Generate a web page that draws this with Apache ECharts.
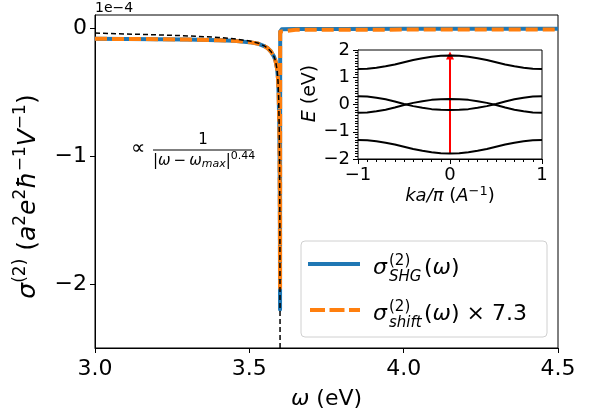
<!DOCTYPE html>
<html>
<head>
<meta charset="utf-8">
<script src="https://cdn.jsdelivr.net/npm/echarts@6/dist/echarts.min.js"></script>
<style>html,body{margin:0;padding:0;background:#fff;}#c{width:604px;height:416px;}</style>
</head>
<body>
<div id="c"></div>
<script>
// ---- main panel data (units of 1e-4) ----
const omega = [3.00,3.10,3.20,3.30,3.40,3.45,3.50,3.53,3.55,3.56,3.57,3.58,3.585,3.59,3.593,3.595,3.597,3.598,3.599,3.5995,3.6,3.605,3.65,3.80,4.00,4.25,4.50];
const sigmaSHG = [-0.086,-0.087,-0.089,-0.092,-0.097,-0.102,-0.112,-0.125,-0.145,-0.16,-0.185,-0.225,-0.26,-0.32,-0.40,-0.52,-0.75,-1.0,-1.5,-2.2,-0.03,-0.012,-0.010,-0.009,-0.008,-0.008,-0.008];
const sigmaShift = [-0.086,-0.087,-0.089,-0.092,-0.097,-0.102,-0.112,-0.125,-0.145,-0.16,-0.185,-0.225,-0.26,-0.32,-0.40,-0.52,-0.75,-1.0,-1.5,-2.03,-0.03,-0.018,-0.016,-0.015,-0.014,-0.014,-0.014];
const omegaFit = [3.00,3.10,3.20,3.30,3.40,3.45,3.50,3.53,3.55,3.56,3.57,3.58,3.585,3.59,3.593,3.595,3.597,3.598,3.599,3.5995,3.5999];
const fitCurve = [-0.041,-0.048,-0.055,-0.063,-0.075,-0.085,-0.103,-0.12,-0.143,-0.16,-0.185,-0.225,-0.26,-0.33,-0.42,-0.55,-0.8,-1.05,-1.6,-2.3,-3.5];
const mainXTicks = [3.0,3.5,4.0,4.5];
const mainYTicks = [0,-1,-2];

// ---- inset data ----
const kPts = [-1,-0.9,-0.8,-0.7,-0.6,-0.5,-0.4,-0.3,-0.2,-0.1,0,0.1,0.2,0.3,0.4,0.5,0.6,0.7,0.8,0.9,1];
const bandTop = [1.30,1.31,1.35,1.40,1.47,1.55,1.63,1.70,1.75,1.79,1.80,1.79,1.75,1.70,1.63,1.55,1.47,1.40,1.35,1.31,1.30];
const bandMidA = [0.30,0.29,0.25,0.19,0.11,0.02,-0.06,-0.12,-0.17,-0.19,-0.20,-0.19,-0.17,-0.12,-0.06,0.02,0.11,0.19,0.25,0.29,0.30];
const bandMidB = [-0.30,-0.29,-0.25,-0.19,-0.11,-0.02,0.06,0.12,0.17,0.19,0.20,0.19,0.17,0.12,0.06,-0.02,-0.11,-0.19,-0.25,-0.29,-0.30];
const bandBot = [-1.30,-1.31,-1.35,-1.40,-1.47,-1.55,-1.63,-1.70,-1.75,-1.79,-1.80,-1.79,-1.75,-1.70,-1.63,-1.55,-1.47,-1.40,-1.35,-1.31,-1.30];
const arrowK = 0, arrowFrom = -1.8, arrowTo = 1.8;
const insetXTicks = [-1,0,1];
const insetYTicks = [-2,-1,0,1,2];

const FF = 'DejaVu Sans';
const pair = (xs, ys) => xs.map((x, i) => [x, ys[i]]);
const fmt = v => String(v).replace('-', '\u2212');

const chart = echarts.init(document.getElementById('c'), null, {renderer: 'canvas'});
const bandSeries = (d) => ({
  type: 'line', xAxisIndex: 1, yAxisIndex: 1, data: pair(kPts, d), symbol: 'none',
  smooth: false, lineStyle: {color: '#000', width: 2}, silent: true, z: 10
});
const supStyle = {fontFamily: FF, fontSize: 17, padding: [0, 0, 16, 0], color: '#000'};

chart.setOption({
  animation: false,
  textStyle: {fontFamily: FF},
  grid: [
    {left: 95, top: 15, width: 463, height: 333, show: true, borderColor: '#000', borderWidth: 1, backgroundColor: 'transparent'},
    {left: 358, top: 50, width: 184, height: 109, show: true, borderColor: '#000', borderWidth: 1, backgroundColor: '#fff', z: 5}
  ],
  xAxis: [
    {type: 'value', gridIndex: 0, min: 3.0, max: 4.5, interval: 0.5,
     axisLine: {onZero: false, lineStyle: {color: '#000', width: 1}},
     axisTick: {show: true, length: 5, lineStyle: {color: '#000'}},
     axisLabel: {color: '#000', fontSize: 22, fontFamily: FF, margin: 10, customValues: mainXTicks, formatter: v => v.toFixed(1)},
     splitLine: {show: false},
     name: '{i|ω} (eV)', nameLocation: 'middle', nameGap: 40,
     nameTextStyle: {color: '#000', fontSize: 22, fontFamily: FF, rich: {i: {fontStyle: 'italic', fontSize: 22, fontFamily: FF}}}
    },
    {type: 'value', gridIndex: 1, min: -1, max: 1, interval: 1,
     axisLine: {onZero: false, lineStyle: {color: '#000', width: 1}},
     axisTick: {show: true, length: 5, lineStyle: {color: '#000'}},
     minorTick: {show: true, splitNumber: 10, length: 3, lineStyle: {color: '#000'}},
     axisLabel: {color: '#000', fontSize: 18, fontFamily: FF, margin: 7, customValues: insetXTicks, formatter: v => fmt(v)},
     splitLine: {show: false},
     name: '{i|ka/π} ({i|A}{s|−1})', nameLocation: 'middle', nameGap: 22,
     nameTextStyle: {color: '#000', fontSize: 18, fontFamily: FF, rich: {i: {fontStyle: 'italic', fontSize: 18, fontFamily: FF}, s: {fontSize: 13, fontFamily: FF, padding: [0,0,10,0]}}}
    }
  ],
  yAxis: [
    {type: 'value', gridIndex: 0, min: -2.5, max: 0.1,
     axisLine: {show: true, onZero: false, lineStyle: {color: '#000', width: 1}},
     axisTick: {show: true, length: 5, customValues: mainYTicks, lineStyle: {color: '#000'}},
     axisLabel: {color: '#000', fontSize: 22, fontFamily: FF, margin: 8, customValues: mainYTicks, formatter: v => fmt(v)},
     splitLine: {show: false},
     name: '{i|σ}{s|(2)} ({i|a}{s|2}{i|e}{s|2}{i|ħ}{s|−1}{i|V}{s|−1})',
     nameLocation: 'middle', nameRotate: 90, nameGap: 50,
     nameTextStyle: {color: '#000', fontSize: 25, fontFamily: FF, padding: [0, 30, 0, 0], rich: {i: {fontStyle: 'italic', fontSize: 25, fontFamily: FF}, s: supStyle}}
    },
    {type: 'value', gridIndex: 1, min: -2, max: 2, interval: 1,
     axisLine: {show: true, onZero: false, lineStyle: {color: '#000', width: 1}},
     axisTick: {show: true, length: 5, lineStyle: {color: '#000'}},
     minorTick: {show: true, splitNumber: 10, length: 3, lineStyle: {color: '#000'}},
     axisLabel: {color: '#000', fontSize: 18, fontFamily: FF, margin: 8, customValues: insetYTicks, formatter: v => fmt(v)},
     splitLine: {show: false},
     name: '{i|E} (eV)', nameLocation: 'middle', nameRotate: 90, nameGap: 23,
     nameTextStyle: {color: '#000', fontSize: 19, fontFamily: FF, padding: [0, 0, 0, 22], rich: {i: {fontStyle: 'italic', fontSize: 19, fontFamily: FF}}}
    }
  ],
  series: [
    {type: 'line', name: 'SHG', xAxisIndex: 0, yAxisIndex: 0, data: pair(omega, sigmaSHG), symbol: 'none',
     lineStyle: {color: '#1f77b4', width: 4, join: 'round'}, silent: true, z: 2},
    {type: 'line', name: 'shift', xAxisIndex: 0, yAxisIndex: 0, data: pair(omega, sigmaShift), symbol: 'none',
     lineStyle: {color: '#ff7f0e', width: 4, type: [12, 5], join: 'round'}, silent: true, z: 3},
    {type: 'line', name: 'fit', xAxisIndex: 0, yAxisIndex: 0, data: pair(omegaFit, fitCurve), symbol: 'none',
     lineStyle: {color: '#000', width: 1.5, type: [5, 3]}, silent: true, z: 4},
    Object.assign(bandSeries(bandTop), {
      markLine: {silent: true, symbol: ['none', 'triangle'], symbolSize: 8, symbolOffset: [0, 0], label: {show: false},
        lineStyle: {color: '#ff0000', width: 2, type: 'solid'}, itemStyle: {color: '#ff0000'},
        emphasis: {disabled: true},
        data: [[{coord: [arrowK, arrowFrom]}, {coord: [arrowK, arrowTo]}]]}
    }),
    bandSeries(bandMidA),
    bandSeries(bandMidB),
    bandSeries(bandBot)
  ],
  graphic: [
    {type: 'text', left: 95, top: 1, style: {text: '1e\u22124', fontSize: 14, fontFamily: FF, fill: '#000'}},
    // annotation
    {type: 'text', x: 131, y: 149, style: {text: '\u221d', fontSize: 20, fontFamily: FF, fill: '#000', verticalAlign: 'middle'}},
    {type: 'text', x: 203, y: 140, style: {text: '1', fontSize: 15, fontFamily: FF, fill: '#000', align: 'center', verticalAlign: 'middle'}},
    {type: 'line', shape: {x1: 153, y1: 150, x2: 252, y2: 150}, style: {stroke: '#000', lineWidth: 1.2}},
    {type: 'text', x: 153, y: 161, style: {
      text: '|{i|ω}\u2009−\u2009{i|ω}{b|max}|{p|0.44}', fontSize: 15, fontFamily: FF, fill: '#000', verticalAlign: 'middle',
      rich: {i: {fontStyle: 'italic', fontSize: 15, fontFamily: FF}, b: {fontStyle: 'italic', fontSize: 11, fontFamily: FF, padding: [7,0,0,0]}, p: {fontSize: 11, fontFamily: FF, padding: [0,0,10,0]}}}},
    // legend
    {type: 'rect', shape: {x: 301, y: 241, width: 246, height: 96, r: 4}, style: {fill: 'rgba(255,255,255,0.8)', stroke: '#d0d0d0', lineWidth: 1}, z: 20},
    {type: 'line', shape: {x1: 308, y1: 264, x2: 360, y2: 264}, style: {stroke: '#1f77b4', lineWidth: 4}, z: 21},
    {type: 'line', shape: {x1: 310, y1: 310, x2: 360, y2: 310}, style: {stroke: '#ff7f0e', lineWidth: 4, lineDash: [15, 4.5]}, z: 21},
    {type: 'text', x: 373, y: 268, z: 21, style: {text: 'σ', fontSize: 22, fontStyle: 'italic', fontFamily: FF, fill: '#000', verticalAlign: 'middle'}},
    {type: 'text', x: 389, y: 261, z: 21, style: {text: '(2)', fontSize: 15, fontFamily: FF, fill: '#000', verticalAlign: 'middle'}},
    {type: 'text', x: 389, y: 277, z: 21, style: {text: 'SHG', fontSize: 15, fontStyle: 'italic', fontFamily: FF, fill: '#000', verticalAlign: 'middle'}},
    {type: 'text', x: 424, y: 268, z: 21, style: {text: '({i|ω})', fontSize: 22, fontFamily: FF, fill: '#000', verticalAlign: 'middle', rich: {i: {fontStyle: 'italic', fontSize: 22, fontFamily: FF}}}},
    {type: 'text', x: 373, y: 314, z: 21, style: {text: 'σ', fontSize: 22, fontStyle: 'italic', fontFamily: FF, fill: '#000', verticalAlign: 'middle'}},
    {type: 'text', x: 389, y: 307, z: 21, style: {text: '(2)', fontSize: 15, fontFamily: FF, fill: '#000', verticalAlign: 'middle'}},
    {type: 'text', x: 389, y: 323, z: 21, style: {text: 'shift', fontSize: 15, fontStyle: 'italic', fontFamily: FF, fill: '#000', verticalAlign: 'middle'}},
    {type: 'text', x: 424, y: 314, z: 21, style: {text: '({i|ω}) × 7.3', fontSize: 22, fontFamily: FF, fill: '#000', verticalAlign: 'middle', rich: {i: {fontStyle: 'italic', fontSize: 22, fontFamily: FF}}}}
  ]
});
</script>
</body>
</html>
